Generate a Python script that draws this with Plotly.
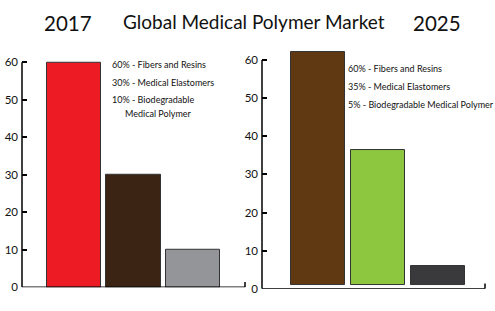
import plotly.graph_objects as go

W, H = 495, 311

categories = ["Fibers and Resins", "Medical Elastomers", "Biodegradable Medical Polymer"]
values_2017 = [60, 30, 10]
values_2025 = [61, 35.5, 5.1]
base_2025 = 1
colors_2017 = ["#ED1C24", "#3C2415", "#939598"]
colors_2025 = ["#603913", "#8DC63F", "#3A3A3C"]
y_ticks = [0, 10, 20, 30, 40, 50, 60]
labels_2017 = ["60% - Fibers and Resins", "30% - Medical Elastomers", "10% - Biodegradable", "Medical Polymer"]
labels_2025 = ["60% - Fibers and Resins", "35% - Medical Elastomers", "5% - Biodegradable Medical Polymer"]

FONT = "Lato, DejaVu Sans Condensed, sans-serif"

def px(x):
    return x / W

def py(y):
    return (H - y) / H

fig = go.Figure()
fig.add_trace(go.Bar(x=categories, y=values_2017, marker=dict(color=colors_2017, line=dict(color="#333333", width=1)),
                     width=0.908, xaxis="x", yaxis="y", showlegend=False, hoverinfo="skip"))
fig.add_trace(go.Bar(x=categories, y=values_2025, base=base_2025,
                     marker=dict(color=colors_2025, line=dict(color="#333333", width=1)),
                     width=0.9, xaxis="x2", yaxis="y2", showlegend=False, hoverinfo="skip"))

xcommon = dict(showticklabels=False, ticks="", showline=False, showgrid=False, zeroline=False, fixedrange=True)
ycommon = dict(tickvals=y_ticks, ticks="inside", ticklen=5, tickwidth=1.5, tickcolor="black",
               showline=False, showgrid=False, zeroline=False, range=[0, 66],
               tickfont=dict(family=FONT, size=11.5, color="#111"), ticklabelstandoff=3)

fig.update_layout(
    width=W, height=H, margin=dict(l=0, r=0, t=0, b=0),
    paper_bgcolor="white", plot_bgcolor="rgba(0,0,0,0)",
    bargap=0,
    xaxis=dict(domain=[px(22), px(245)], range=[-0.874, 2.874], anchor="y", **xcommon),
    yaxis=dict(domain=[py(293), py(293 - 66 * 3.825)], anchor="x", **ycommon),
    xaxis2=dict(domain=[px(262), px(485)], range=[-0.933, 2.783], anchor="y2", **xcommon),
    yaxis2=dict(domain=[py(294.5), py(294.5 - 66 * 3.89)], anchor="x2", **ycommon),
)

shapes = []
for xr, yr in [("x domain", "y"), ("x2 domain", "y2")]:
    shapes.append(dict(type="line", xref=xr, yref=yr, x0=0, x1=0, y0=0, y1=60, line=dict(color="black", width=1.5)))
    shapes.append(dict(type="line", xref=xr, yref=yr, x0=0, x1=1, y0=0, y1=0, line=dict(color="black", width=1.5)))
    shapes.append(dict(type="line", xref=xr, yref=yr, x0=1, x1=1, y0=0, y1=1.4, line=dict(color="black", width=1.5)))
fig.update_layout(shapes=shapes)

ann = []
ann.append(dict(text="Global Medical Polymer Market", x=px(254), y=py(22), xref="paper", yref="paper",
                showarrow=False, xanchor="center", yanchor="middle", font=dict(family=FONT, size=19, color="#111")))
ann.append(dict(text="2017", x=px(68), y=py(23), xref="paper", yref="paper",
                showarrow=False, xanchor="center", yanchor="middle", font=dict(family=FONT, size=20.5, color="#111")))
ann.append(dict(text="2025", x=px(437), y=py(23), xref="paper", yref="paper",
                showarrow=False, xanchor="center", yanchor="middle", font=dict(family=FONT, size=20.5, color="#111")))

left_y = [66, 84, 101, 116]
left_x = [110, 110, 110, 123]
for t, xx, yy in zip(labels_2017, left_x, left_y):
    ann.append(dict(text=t, x=px(xx), y=py(yy), xref="paper", yref="paper", showarrow=False,
                    xanchor="left", yanchor="middle", font=dict(family=FONT, size=9, color="#111")))
right_y = [70, 88, 107]
for t, yy in zip(labels_2025, right_y):
    ann.append(dict(text=t, x=px(346), y=py(yy), xref="paper", yref="paper", showarrow=False,
                    xanchor="left", yanchor="middle", font=dict(family=FONT, size=9, color="#111")))
fig.update_layout(annotations=ann)

fig.write_html("out.html")
